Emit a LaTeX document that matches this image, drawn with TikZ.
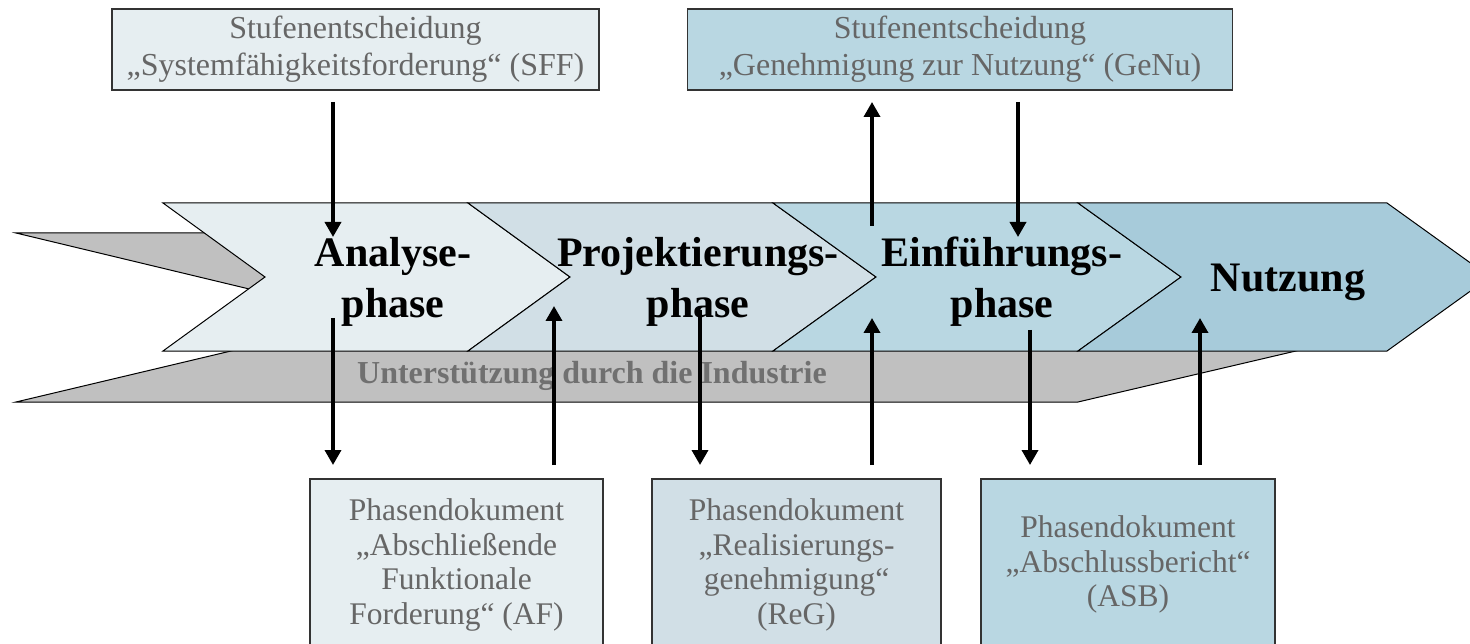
\documentclass[tikz,border=0pt]{standalone}
\usepackage{fontspec}
\setmainfont{Liberation Serif}
\usetikzlibrary{arrows.meta}
\definecolor{phaseA}{HTML}{E6EEF1}
\definecolor{phaseB}{HTML}{D1DFE6}
\definecolor{phaseC}{HTML}{B9D7E2}
\definecolor{phaseD}{HTML}{A7CBDA}
\definecolor{bandgray}{HTML}{C0C0C0}
\definecolor{textgray}{HTML}{666666}
\tikzset{
  pfeil/.style={line width=3.5pt,-{Triangle[length=15pt,width=16pt]}},
  chevron/.style={draw=black,line width=1pt},
  phasetext/.style={font=\fontsize{42}{51}\selectfont\bfseries,align=center},
  dokbox/.style={draw=black!80,line width=1.5pt,text=textgray,align=center,inner sep=0pt}
}
\begin{document}
\begin{tikzpicture}[x=1pt,y=-1pt]
\useasboundingbox (0,0) rectangle (1470,644);
\clip (0,0) rectangle (1470,644);

% Support band
\draw[chevron,fill=bandgray] (16,233) -- (1330,233) -- (1330,343) -- (1078,402) -- (16,402) -- (370,318) -- cycle;
\node[font=\fontsize{32}{36}\selectfont\bfseries,text=black!56] (industrie) at (592,376) {Unterstützung durch die Industrie};

% Phases
\draw[chevron,fill=phaseA] (163,203) -- (468,203) -- (570,277) -- (468,351) -- (163,351) -- (265,277) -- cycle;
\draw[chevron,fill=phaseB] (468,203) -- (773,203) -- (876,277) -- (773,351) -- (468,351) -- (570,277) -- cycle;
\draw[chevron,fill=phaseC] (773,203) -- (1078,203) -- (1181,277) -- (1078,351) -- (773,351) -- (876,277) -- cycle;
\draw[chevron,fill=phaseD] (1078,203) -- (1387,203) -- (1490,277) -- (1387,351) -- (1078,351) -- (1181,277) -- cycle;
\node[phasetext] (analyse) at (393,282) {Analyse-\\phase};
\node[phasetext] (projekt) at (698,282) {Projektierungs-\\phase};
\node[phasetext] (einfuehrung) at (1002,282) {Einführungs-\\phase};
\node[phasetext] (nutzung) at (1288,282) {Nutzung};

% Decision boxes
\node[dokbox,fill=phaseA,minimum width=487pt,minimum height=81pt,font=\fontsize{32}{37}\selectfont] (sff) at (355.5,49.5) {Stufenentscheidung\\„Systemfähigkeitsforderung“ (SFF)};
\node[dokbox,fill=phaseC,minimum width=545pt,minimum height=81pt,font=\fontsize{32}{37}\selectfont] (genu) at (960,49.5) {Stufenentscheidung\\„Genehmigung zur Nutzung“ (GeNu)};

% Phase documents
\node[dokbox,fill=phaseA,anchor=north,minimum width=293pt,minimum height=172pt,font=\fontsize{31.5}{34.5}\selectfont] (af) at (456.5,478) {Phasendokument\\„Abschließende\\Funktionale\\Forderung“ (AF)};
\node[dokbox,fill=phaseB,anchor=north,minimum width=289pt,minimum height=172pt,font=\fontsize{31.5}{34.5}\selectfont] (reg) at (796.5,478) {Phasendokument\\„Realisierungs-\\genehmigung“\\(ReG)};
\node[dokbox,fill=phaseC,anchor=north,minimum width=294pt,minimum height=172pt,font=\fontsize{31.5}{34.5}\selectfont] (asb) at (1128,478) {Phasendokument\\„Abschlussbericht“\\(ASB)};

% Arrow ends
\coordinate (sffout) at (333,102);  \coordinate (sffin) at (333,237);
\coordinate (genuin) at (872,102);  \coordinate (genufrom) at (872,226);
\coordinate (genuout) at (1018,102); \coordinate (genuto) at (1018,237);
\coordinate (affrom) at (333,318);  \coordinate (afin) at (333,465);
\coordinate (afout) at (554,465);   \coordinate (afto) at (554,306);
\coordinate (regfrom) at (700,310); \coordinate (regin) at (700,465);
\coordinate (regout) at (872,465);  \coordinate (regto) at (872,318);
\coordinate (asbfrom) at (1030,330); \coordinate (asbin) at (1030,465);
\coordinate (asbout) at (1200,465); \coordinate (asbto) at (1200,318);

% Arrows
\draw[pfeil] (sffout) -- (sffin);
\draw[pfeil] (genufrom) -- (genuin);
\draw[pfeil] (genuout) -- (genuto);
\draw[pfeil] (affrom) -- (afin);
\draw[pfeil] (afout) -- (afto);
\draw[pfeil] (regfrom) -- (regin);
\draw[pfeil] (regout) -- (regto);
\draw[pfeil] (asbfrom) -- (asbin);
\draw[pfeil] (asbout) -- (asbto);
\end{tikzpicture}
\end{document}
